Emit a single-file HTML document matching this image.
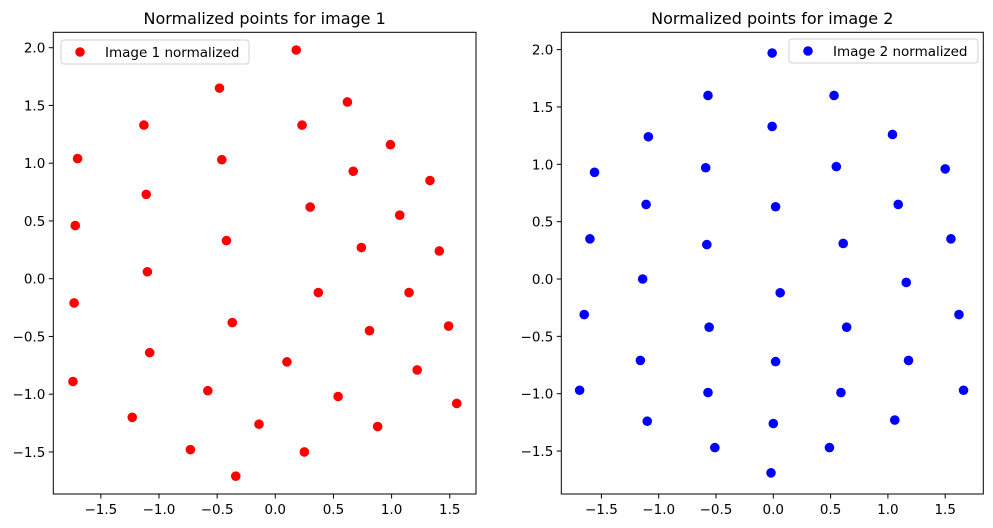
<!DOCTYPE html>
<html><head><meta charset="utf-8"><style>
html,body{margin:0;padding:0;background:#fff;}
svg{display:block;font-family:"DejaVu Sans","Liberation Sans",sans-serif;}
</style></head><body>
<svg id="chart" width="993" height="528" viewBox="0 0 993 528"></svg>
<script>
const xTicks = [-1.5,-1.0,-0.5,0.0,0.5,1.0,1.5];
const yTicks = [-1.5,-1.0,-0.5,0.0,0.5,1.0,1.5,2.0];
const img1X = [0.18,-0.48,0.62,-1.13,0.23,0.99,-1.70,-0.46,0.67,1.33,-1.11,0.30,1.07,-1.72,-0.42,0.74,1.41,-1.10,0.37,1.15,-1.73,1.49,-0.37,0.81,-1.08,0.10,1.22,-1.74,-0.58,0.54,1.56,0.88,-1.23,-0.14,-0.73,0.25,-0.34];
const img1Y = [1.98,1.65,1.53,1.33,1.33,1.16,1.04,1.03,0.93,0.85,0.73,0.62,0.55,0.46,0.33,0.27,0.24,0.06,-0.12,-0.12,-0.21,-0.41,-0.38,-0.45,-0.64,-0.72,-0.79,-0.89,-0.97,-1.02,-1.08,-1.28,-1.20,-1.26,-1.48,-1.50,-1.71];
const img2X = [-0.01,-0.57,0.53,-1.09,-0.01,1.04,-1.56,-0.59,0.55,1.50,-1.11,0.02,1.09,-1.60,-0.58,0.61,1.55,-1.14,0.06,1.16,-1.65,-0.56,0.64,1.62,-1.16,0.02,1.18,-1.69,-0.57,0.59,1.66,-1.10,1.06,0.00,-0.51,0.49,-0.02];
const img2Y = [1.97,1.60,1.60,1.24,1.33,1.26,0.93,0.97,0.98,0.96,0.65,0.63,0.65,0.35,0.30,0.31,0.35,0.00,-0.12,-0.03,-0.31,-0.42,-0.42,-0.31,-0.71,-0.72,-0.71,-0.97,-0.99,-0.99,-0.97,-1.24,-1.23,-1.26,-1.47,-1.47,-1.69];

const NS = 'http://www.w3.org/2000/svg';
const svg = document.getElementById('chart');
function mk(tag, attrs, parent){
  const e = document.createElementNS(NS, tag);
  for (const k in attrs) e.setAttribute(k, attrs[k]);
  (parent||svg).appendChild(e);
  return e;
}
const panels = [
  {name:'image-1', box:[53.3,32.3,476,494], x0:275.3, xs:116.3, y0:278.7, ys:115.5, xs_:img1X, ys_:img1Y, color:'#ff0000', title:'Normalized points for image 1', legend:'Image 1 normalized', lg:[61,40,188,24]},
  {name:'image-2', box:[561.3,32.3,983.3,494], x0:773.3, xs:114.6, y0:279, ys:114.7, xs_:img2X, ys_:img2Y, color:'#0000ff', title:'Normalized points for image 2', legend:'Image 2 normalized', lg:[789,39,189,24]}
];
panels.forEach(p => {
  const g = mk('g', {});
  
  
  const X = v => p.x0 + v*p.xs;
  const Y = v => p.y0 - v*p.ys;
  const [l,t,r,b] = p.box;
  // points
  const pts = mk('g', {}, g);
  
  
  for (let i=0;i<p.xs_.length;i++){
    const c = mk('circle', {cx:X(p.xs_[i]), cy:Y(p.ys_[i]), r:4.8, fill:p.color}, pts);
    
    
  }
  const frame = mk('rect', {x:l, y:t, width:r-l, height:b-t, fill:'none', stroke:'#000', 'stroke-width':1}, g);
  
  
  xTicks.forEach(v => {
    const x = X(v);
    mk('line', {x1:x, y1:b, x2:x, y2:b+4.5, stroke:'#000', 'stroke-width':1}, g);
    const tx = mk('text', {x:x, y:b+20, 'font-size':13.5, 'text-anchor':'middle', fill:'#000'}, g);
    tx.textContent = (v<0?'\u2212':'') + Math.abs(v).toFixed(1);
    
    
  });
  yTicks.forEach(v => {
    const y = Y(v);
    mk('line', {x1:l-4.5, y1:y, x2:l, y2:y, stroke:'#000', 'stroke-width':1}, g);
    const tx = mk('text', {x:l-8, y:y+5, 'font-size':13.5, 'text-anchor':'end', fill:'#000'}, g);
    tx.textContent = (v<0?'\u2212':'') + Math.abs(v).toFixed(1);
    
    
  });
  const ti = mk('text', {x:(l+r)/2, y:24, 'font-size':16, 'text-anchor':'middle', fill:'#000'}, g);
  ti.textContent = p.title;
  
  
  const lg = mk('g', {}, g);
  
  
  const [lx,ly,lw,lh] = p.lg;
  mk('rect', {x:lx, y:ly, width:lw, height:lh, rx:3, fill:'#fff', 'fill-opacity':0.8, stroke:'#d0d0d0', 'stroke-width':1}, lg);
  mk('circle', {cx:lx+19, cy:ly+12, r:4.8, fill:p.color}, lg);
  const lt = mk('text', {x:lx+44, y:ly+17, 'font-size':13.5, fill:'#000'}, lg);
  lt.textContent = p.legend;
  
  
});
</script>
</body></html>
